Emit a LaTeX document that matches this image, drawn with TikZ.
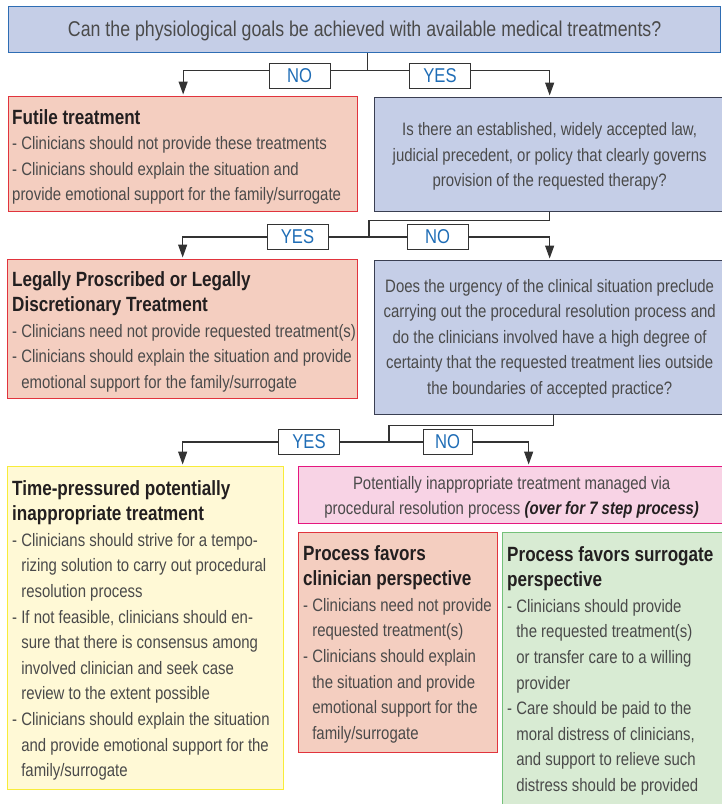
\documentclass[tikz,border=0pt]{standalone}
\usepackage{fontspec}
\setmainfont{Liberation Sans}[FakeStretch=0.83]
\usetikzlibrary{arrows.meta}
\definecolor{qfill}{HTML}{C5CEE7}
\definecolor{qdraw}{HTML}{3A3F52}
\definecolor{topdraw}{HTML}{2E6DB4}
\definecolor{salfill}{HTML}{F4CEC0}
\definecolor{saldraw}{HTML}{E1343D}
\definecolor{yelfill}{HTML}{FFF9D6}
\definecolor{yeldraw}{HTML}{F8EC3A}
\definecolor{pinkfill}{HTML}{F8D3E5}
\definecolor{pinkdraw}{HTML}{E5177F}
\definecolor{grnfill}{HTML}{D8EBD3}
\definecolor{grndraw}{HTML}{74C17A}
\definecolor{txtgray}{HTML}{4A4A4A}
\definecolor{ttlblack}{HTML}{231F20}
\definecolor{lblblue}{HTML}{1F6DB6}
\definecolor{linegray}{HTML}{333333}
\newcommand{\ttlfont}{\color{ttlblack}\bfseries\fontsize{20.6}{25.6}\selectfont}
\newcommand{\hg}{\hphantom{- }}
\begin{document}
\begin{tikzpicture}[x=1pt,y=-1pt,
  boxbase/.style={anchor=north west, inner sep=0pt, line width=1.3pt},
  qbox/.style={boxbase, fill=qfill, draw=qdraw},
  topbox/.style={boxbase, fill=qfill, draw=topdraw},
  salbox/.style={boxbase, fill=salfill, draw=saldraw},
  yelbox/.style={boxbase, fill=yelfill, draw=yeldraw},
  pinkbox/.style={boxbase, fill=pinkfill, draw=pinkdraw},
  grnbox/.style={boxbase, fill=grnfill, draw=grndraw},
  txt/.style={anchor=north west, inner sep=0pt, align=left, text=txtgray,
    font=\fontsize{18}{25.6}\selectfont},
  ctxt/.style={inner sep=0pt, align=center, text=txtgray,
    font=\fontsize{18}{25.6}\selectfont},
  lbl/.style={draw=linegray, fill=white, line width=0.9pt, text=lblblue,
    minimum width=61pt, minimum height=25pt, inner sep=0pt,
    font=\fontsize{20}{22}\selectfont},
  ln/.style={draw=linegray, line width=1.3pt},
  arr/.style={ln, -{Triangle[width=9pt,length=13pt]}, shorten >=1.5pt},
]
\useasboundingbox (0,0) rectangle (722,804);

% boxes
\node[topbox, minimum width=712pt, minimum height=46pt] (top) at (8,6) {};
\node[salbox, minimum width=349pt, minimum height=115pt] (futile) at (8,96) {};
\node[qbox, minimum width=350pt, minimum height=114pt] (q2) at (374,97) {};
\node[salbox, minimum width=350pt, minimum height=139pt] (legal) at (7,259) {};
\node[qbox, minimum width=350pt, minimum height=154pt] (q3) at (374,260) {};
\node[yelbox, minimum width=276pt, minimum height=323pt] (yellow) at (7,466) {};
\node[pinkbox, minimum width=426pt, minimum height=57pt] (pink) at (298,466) {};
\node[salbox, minimum width=199pt, minimum height=220pt] (clin) at (298,532) {};
\node[grnbox, minimum width=222pt, minimum height=290pt] (green) at (502,532) {};

% texts
\node[ctxt, font=\fontsize{21.4}{25.6}\selectfont] (toptxt) at ([yshift=-1pt]top.center) {Can the physiological goals be achieved with available medical treatments?};
\node[txt] (futiletxt) at (12,109) {{\ttlfont Futile treatment}\\
- Clinicians should not provide these treatments\\
- Clinicians should explain the situation and\\
provide emotional support for the family/surrogate};
\node[ctxt] (q2txt) at ([yshift=-2pt]q2.center) {Is there an established, widely accepted law,\\
judicial precedent, or policy that clearly governs\\
provision of the requested therapy?};
\node[txt] (legaltxt) at (12,271) {{\ttlfont Legally Proscribed or Legally}\\
{\ttlfont Discretionary Treatment}\\
- Clinicians need not provide requested treatment(s)\\
- Clinicians should explain the situation and provide\\
\hg emotional support for the family/surrogate};
\node[ctxt] (q3txt) at ([yshift=-1pt]q3.center) {Does the urgency of the clinical situation preclude\\
carrying out the procedural resolution process and\\
do the clinicians involved have a high degree of\\
certainty that the requested treatment lies outside\\
the boundaries of accepted practice?};
\node[txt] (yellowtxt) at (12,480) {{\ttlfont Time-pressured potentially}\\
{\ttlfont inappropriate treatment}\\
- Clinicians should strive for a tempo-\\
\hg rizing solution to carry out procedural\\
\hg resolution process\\
- If not feasible, clinicians should en-\\
\hg sure that there is consensus among\\
\hg involved clinician and seek case\\
\hg review to the extent possible\\
- Clinicians should explain the situation\\
\hg and provide emotional support for the\\
\hg family/surrogate};
\node[ctxt] (pinktxt) at ([yshift=-2pt]pink.center) {Potentially inappropriate treatment managed via\\
procedural resolution process {\color{ttlblack}\bfseries\itshape (over for 7 step process)}};
\node[txt] (clintxt) at (303,545) {{\ttlfont Process favors}\\
{\ttlfont clinician perspective}\\
- Clinicians need not provide\\
\hg requested treatment(s)\\
- Clinicians should explain\\
\hg the situation and provide\\
\hg emotional support for the\\
\hg family/surrogate};
\node[txt] (greentxt) at (507,546) {{\ttlfont Process favors surrogate}\\
{\ttlfont perspective}\\
- Clinicians should provide\\
\hg the requested treatment(s)\\
\hg or transfer care to a willing\\
\hg provider\\
- Care should be paid to the\\
\hg moral distress of clinicians,\\
\hg and support to relieve such\\
\hg distress should be provided};

% connectors level 1
\draw[ln] ([xshift=3pt]top.south) -- ++(0,17) coordinate (j1);
\draw[arr] (j1) -| (futile.north);
\draw[arr] (j1) -| (q2.north);
\node[lbl] (no1) at (299.5,75.5) {NO};
\node[lbl] (yes1) at (440,75.5) {YES};

% connectors level 2
\coordinate (j2) at (369,237);
\draw[ln] (q2.south) -- ++(0,8) -| (j2);
\draw[arr] (j2) -| (legal.north);
\draw[arr] (j2) -| (q3.north);
\node[lbl] (yes2) at (297.5,237) {YES};
\node[lbl] (no2) at (437.5,237) {NO};

% connectors level 3
\coordinate (j3) at (389,442);
\draw[ln] ([xshift=4pt]q3.south) -- ++(0,10) -| (j3);
\draw[arr] (j3) -| ([xshift=37pt]yellow.north);
\draw[arr] (j3) -| ([xshift=17pt]pink.north);
\node[lbl] (yes3) at (309,442) {YES};
\node[lbl, minimum width=49pt] (no3) at (447.5,442) {NO};
\end{tikzpicture}
\end{document}
